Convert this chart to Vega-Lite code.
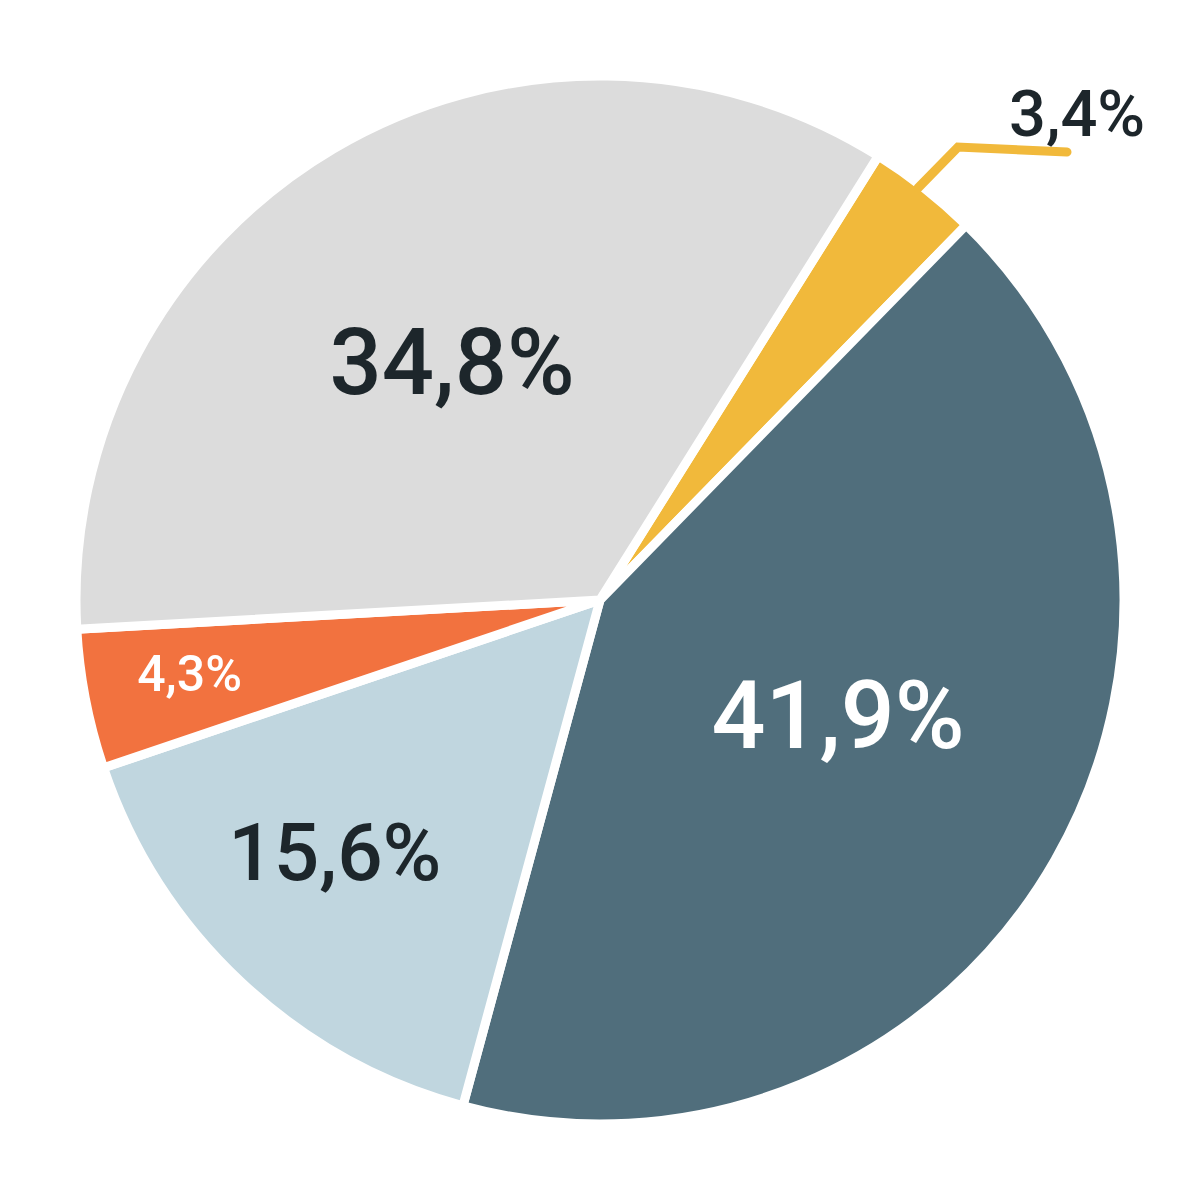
{
  "$schema": "https://vega.github.io/schema/vega-lite/v6.json",
  "width": 1200,
  "height": 1200,
  "autosize": {"type": "none"},
  "padding": 0,
  "background": "white",
  "config": {"view": {"stroke": null}},
  "datasets": {
    "slices": [
      {"category": "A", "value": 3.4, "label": "3,4%", "order": 1},
      {"category": "B", "value": 41.9, "label": "41,9%", "order": 2},
      {"category": "C", "value": 15.6, "label": "15,6%", "order": 3},
      {"category": "D", "value": 4.3, "label": "4,3%", "order": 4},
      {"category": "E", "value": 34.8, "label": "34,8%", "order": 5}
    ],
    "leader": [
      {"px": 0.636, "py": 0.824, "step": 1},
      {"px": 0.716, "py": 0.906, "step": 2},
      {"px": 0.934, "py": 0.896, "step": 3}
    ]
  },
  "layer": [
    {
      "data": {"name": "slices"},
      "mark": {"type": "arc", "radius": 524, "stroke": "white", "strokeWidth": 9, "strokeJoin": "miter"},
      "encoding": {
        "theta": {"field": "value", "type": "quantitative", "stack": true, "scale": {"range": [0.56, 6.843]}},
        "order": {"field": "order", "type": "quantitative"},
        "color": {
          "field": "category", "type": "nominal", "legend": null,
          "scale": {"domain": ["A", "B", "C", "D", "E"], "range": ["#f1b93b", "#506e7c", "#c0d6df", "#f2723f", "#dcdcdc"]}
        }
      }
    },
    {
      "data": {"name": "leader"},
      "mark": {"type": "line", "color": "#f1b93b", "strokeWidth": 9, "strokeCap": "round", "strokeJoin": "miter"},
      "encoding": {
        "x": {"field": "px", "type": "quantitative", "scale": {"domain": [-1.2, 1.2], "nice": false, "zero": false}, "axis": null},
        "y": {"field": "py", "type": "quantitative", "scale": {"domain": [-1.2, 1.2], "nice": false, "zero": false}, "axis": null},
        "order": {"field": "step", "type": "quantitative"}
      }
    },
    {
      "data": {"name": "slices"},
      "mark": {"type": "text", "radius": 283, "fontSize": 92, "font": "Roboto", "fontWeight": 500, "color": "#1d262b", "align": "center", "baseline": "middle", "dx": -4, "dy": 10},
      "encoding": {
        "theta": {"field": "value", "type": "quantitative", "stack": true, "scale": {"range": [0.56, 6.843]}},
        "order": {"field": "order", "type": "quantitative"},
        "text": {"condition": {"test": "datum.category === 'E'", "field": "label"}, "value": ""}
      }
    },
    {
      "data": {"name": "slices"},
      "mark": {"type": "text", "radius": 265, "fontSize": 95, "font": "Roboto", "fontWeight": 500, "color": "#ffffff", "align": "center", "baseline": "middle", "dx": 8, "dy": -12},
      "encoding": {
        "theta": {"field": "value", "type": "quantitative", "stack": true, "scale": {"range": [0.56, 6.843]}},
        "order": {"field": "order", "type": "quantitative"},
        "text": {"condition": {"test": "datum.category === 'B'", "field": "label"}, "value": ""}
      }
    },
    {
      "data": {"name": "slices"},
      "mark": {"type": "text", "radius": 368, "fontSize": 80, "font": "Roboto", "fontWeight": 500, "color": "#1d262b", "align": "center", "baseline": "middle", "dx": -13, "dy": -12},
      "encoding": {
        "theta": {"field": "value", "type": "quantitative", "stack": true, "scale": {"range": [0.56, 6.843]}},
        "order": {"field": "order", "type": "quantitative"},
        "text": {"condition": {"test": "datum.category === 'C'", "field": "label"}, "value": ""}
      }
    },
    {
      "data": {"name": "slices"},
      "mark": {"type": "text", "radius": 417, "fontSize": 50, "font": "Roboto", "fontWeight": 500, "color": "#ffffff", "align": "center", "baseline": "middle", "dx": -1, "dy": -3},
      "encoding": {
        "theta": {"field": "value", "type": "quantitative", "stack": true, "scale": {"range": [0.56, 6.843]}},
        "order": {"field": "order", "type": "quantitative"},
        "text": {"condition": {"test": "datum.category === 'D'", "field": "label"}, "value": ""}
      }
    },
    {
      "data": {"name": "slices"},
      "mark": {"type": "text", "radius": 600, "fontSize": 65, "font": "Roboto", "fontWeight": 500, "color": "#1d262b", "align": "center", "baseline": "middle", "dx": 106, "dy": -13},
      "encoding": {
        "theta": {"field": "value", "type": "quantitative", "stack": true, "scale": {"range": [0.56, 6.843]}},
        "order": {"field": "order", "type": "quantitative"},
        "text": {"condition": {"test": "datum.category === 'A'", "field": "label"}, "value": ""}
      }
    }
  ]
}
